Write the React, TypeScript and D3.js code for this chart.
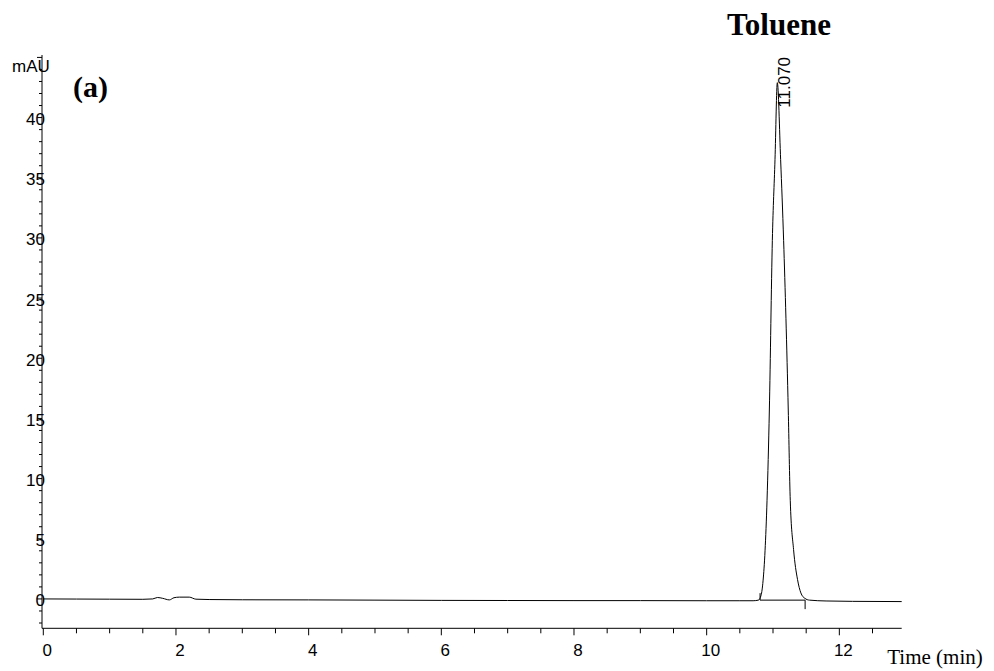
import React from "react";
import * as d3 from "d3";

// Chromatogram trace (time in min, signal in mAU)
const traceTime = [
  0, 0.5, 1.0, 1.5, 1.65, 1.72, 1.8, 1.9, 1.97, 2.05, 2.2, 2.3, 2.5, 3.0, 4.0, 5.0, 6.0, 7.0, 8.0, 9.0,
  10.0, 10.5, 10.7, 10.78, 10.82, 10.85, 10.88, 10.91, 10.945, 10.99, 11.03, 11.065, 11.115, 11.16,
  11.23, 11.26, 11.31, 11.37, 11.42, 11.48, 11.55, 11.8, 12.2, 12.94,
];
const traceValue = [
  0, -0.01, -0.02, -0.03, 0.0, 0.12, 0.05, -0.08, 0.1, 0.15, 0.15, -0.02, -0.05, -0.07, -0.08, -0.1,
  -0.12, -0.13, -0.14, -0.14, -0.15, -0.15, -0.15, -0.1, 0.3, 1.5, 4.0, 8.2, 15.7, 29.8, 36.5, 42.9,
  36.5, 29.8, 15.7, 8.2, 4.1, 1.6, 0.5, 0.05, -0.1, -0.17, -0.2, -0.22,
];

// Peak annotation
const peakTime = 11.07;
const peakHeight = 42.9;
const peakLabel = "11.070";
const compoundName = "Toluene";
const integStart = [10.805, -0.1];
const integEnd = [11.484, -0.1];

// Axes
const xMajorTicks = [0, 2, 4, 6, 8, 10, 12];
const yMajorTicks = [0, 5, 10, 15, 20, 25, 30, 35, 40];
const xDomain = [0, 12.94];
const yDomain = [-2.44, 45.2];

const W = 994;
const H = 671;

export default function App() {
  const x = d3.scaleLinear().domain(xDomain).range([43.3, 901.7]);
  const y = d3.scaleLinear().domain(yDomain).range([628.3, 55]);
  const pts: [number, number][] = traceTime.map((t, i) => [t, traceValue[i]]);
  const line = d3
    .line<[number, number]>()
    .x((d) => x(d[0]))
    .y((d) => y(d[1]))
    .curve(d3.curveMonotoneX);

  const xMinor = d3.range(0, 12.94, 0.5);
  const yMinor = d3.range(-2, 46, 1).filter((v) => v <= 45);
  const axisX = 42;
  const axisY = 628.3;
  const sans = "'Liberation Sans', Arial, sans-serif";
  const serif = "'Liberation Serif', 'Times New Roman', serif";

  return (
    <svg width={W} height={H} style={{ position: "absolute", left: 0, top: 0, background: "#fff" }}>
      <rect x={0} y={0} width={W} height={H} fill="#fff" />
      {/* Y axis */}
      <line x1={axisX} x2={axisX} y1={55} y2={axisY} stroke="#000" strokeWidth={1} />
      {yMinor.map((v) => (
        <line key={"ym" + v} x1={axisX - (v % 5 === 0 ? 5 : 3)} x2={axisX} y1={y(v)} y2={y(v)} stroke="#000" strokeWidth={1} />
      ))}
      {yMajorTicks.map((v) => (
        <text key={"yl" + v} x={45} y={y(v) + 1.5} dy="0.35em" textAnchor="end" fontFamily={sans} fontSize={17} fill="#000">
          {v}
        </text>
      ))}
      <text x={12} y={71.5} fontFamily={sans} fontSize={17} fill="#000">mAU</text>

      {/* X axis */}
      <line x1={axisX} x2={901.7} y1={axisY} y2={axisY} stroke="#000" strokeWidth={1} />
      {xMinor.map((v) => (
        <line key={"xm" + v} x1={x(v)} x2={x(v)} y1={axisY} y2={axisY + (v % 2 === 0 ? 7 : 5)} stroke="#000" strokeWidth={1} />
      ))}
      {xMajorTicks.map((v) => (
        <text key={"xl" + v} x={x(v) + 4} y={655.5} textAnchor="middle" fontFamily={sans} fontSize={17} fill="#000">
          {v}
        </text>
      ))}
      <text x={935} y={664} textAnchor="middle" fontFamily={serif} fontSize={21} fill="#000">Time (min)</text>

      {/* Trace */}
      <path d={line(pts) || ""} fill="none" stroke="#000" strokeWidth={1} />

      {/* Integration baseline and markers */}
      <line x1={x(integStart[0])} y1={y(integStart[1])} x2={x(integEnd[0])} y2={y(integEnd[1])} stroke="#000" strokeWidth={1} />
      <line x1={x(integStart[0])} x2={x(integStart[0])} y1={y(integStart[1])} y2={y(integStart[1]) - 7} stroke="#000" strokeWidth={1} />
      <line x1={x(integEnd[0])} x2={x(integEnd[0])} y1={y(integEnd[1])} y2={y(integEnd[1]) + 9} stroke="#000" strokeWidth={1} />

      {/* Peak label */}
      <text
        transform={`translate(${x(peakTime) + 12},${y(peakHeight) + 25}) rotate(-90)`}
        fontFamily={sans}
        fontSize={17}
        fill="#000"
      >
        {peakLabel}
      </text>
      <text x={779} y={35} textAnchor="middle" fontFamily={serif} fontWeight="bold" fontSize={31} fill="#000">
        {compoundName}
      </text>
      <text x={73} y={97} fontFamily={serif} fontWeight="bold" fontSize={30} fill="#000">(a)</text>
    </svg>
  );
}
